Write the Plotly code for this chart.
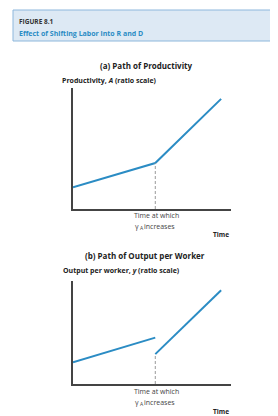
import plotly.graph_objects as go

W, H = 278, 416

# Data (illustrative)
time_a = [0, 5, 9]
prod_a = [1.8, 3.8, 9.1]
time_b1 = [0, 5]
out_b1 = [2.1, 4.5]
time_b2 = [5, 9]
out_b2 = [2.9, 9.1]
kink_time = 5
x_range = [0, 9.6]
y_range = [0, 10]

LINE = "#2b8cc4"
AX = "#444444"

def fx(p):
    return p / W

def fy(p):
    return 1 - p / H

fig = go.Figure()

# Panel (a)
fig.add_trace(go.Scatter(x=time_a, y=prod_a, mode="lines",
                         line=dict(color=LINE, width=2), xaxis="x", yaxis="y",
                         showlegend=False, hoverinfo="skip"))
fig.add_trace(go.Scatter(x=[kink_time, kink_time], y=[0, prod_a[1]], mode="lines",
                         line=dict(color="#999999", width=1, dash="3px,2px"),
                         xaxis="x", yaxis="y", showlegend=False, hoverinfo="skip"))
# Panel (b)
fig.add_trace(go.Scatter(x=time_b1, y=out_b1, mode="lines",
                         line=dict(color=LINE, width=2), xaxis="x2", yaxis="y2",
                         showlegend=False, hoverinfo="skip"))
fig.add_trace(go.Scatter(x=time_b2, y=out_b2, mode="lines",
                         line=dict(color=LINE, width=2), xaxis="x2", yaxis="y2",
                         showlegend=False, hoverinfo="skip"))
fig.add_trace(go.Scatter(x=[kink_time, kink_time], y=[0, out_b2[0]], mode="lines",
                         line=dict(color="#999999", width=1, dash="3px,2px"),
                         xaxis="x2", yaxis="y2", showlegend=False, hoverinfo="skip"))

ax_common = dict(showline=True, linecolor=AX, linewidth=1.5, showgrid=False,
                 zeroline=False, ticks="", showticklabels=False, fixedrange=True)

fig.update_layout(
    width=W, height=H,
    margin=dict(l=0, r=0, t=0, b=0),
    paper_bgcolor="white", plot_bgcolor="white",
    xaxis=dict(domain=[fx(65), fx(223)], range=x_range, anchor="y", **ax_common),
    yaxis=dict(domain=[fy(201), fy(80)], range=y_range, anchor="x", **ax_common),
    xaxis2=dict(domain=[fx(65), fx(223)], range=x_range, anchor="y2", **ax_common),
    yaxis2=dict(domain=[fy(376), fy(273)], range=y_range, anchor="x2", **ax_common),
    font=dict(family="Open Sans, Liberation Sans, sans-serif", color="#222222"),
)

# Header box
fig.add_shape(type="rect", xref="paper", yref="paper",
              x0=fx(5), x1=fx(276), y0=fy(33), y1=fy(2),
              fillcolor="#dde9f4", line=dict(color="#8db7dc", width=1), layer="below")

def ann(text, x, y, size, color="#222222", bold=False, xanchor="center"):
    if bold:
        text = "<b>" + text + "</b>"
    fig.add_annotation(text=text, x=fx(x), y=fy(y), xref="paper", yref="paper",
                       xanchor=xanchor, yanchor="middle", showarrow=False,
                       font=dict(size=size, color=color))

ann("FIGURE 8.1", 9, 13, 6.5, "#333333", True, "left")
ann("Effect of Shifting Labor into R and D", 9, 25, 7, "#2b8cc4", True, "left")

ann("(a) Path of Productivity", 138, 57, 8, "#222222", True)
ann("Productivity, <i>A</i> (ratio scale)", 52, 73, 7, "#222222", True, "left")
ann("Time at which", 148, 207, 7, "#444444")
ann("γ", 129, 218, 7, "#444444")
ann("A", 129.5, 220, 5, "#444444", False, "left")
ann("increases", 133.5, 218, 7, "#444444", False, "left")
ann("Time", 213, 227, 6.5, "#222222", True)

ann("(b) Path of Output per Worker", 137, 247, 8, "#222222", True)
ann("Output per worker, <i>y</i> (ratio scale)", 53, 262, 7, "#222222", True, "left")
ann("Time at which", 148, 383, 7, "#444444")
ann("γ", 129, 394, 7, "#444444")
ann("A", 129.5, 396, 5, "#444444", False, "left")
ann("increases", 133.5, 394, 7, "#444444", False, "left")
ann("Time", 213, 403, 6.5, "#222222", True)

fig.write_html("out.html")
